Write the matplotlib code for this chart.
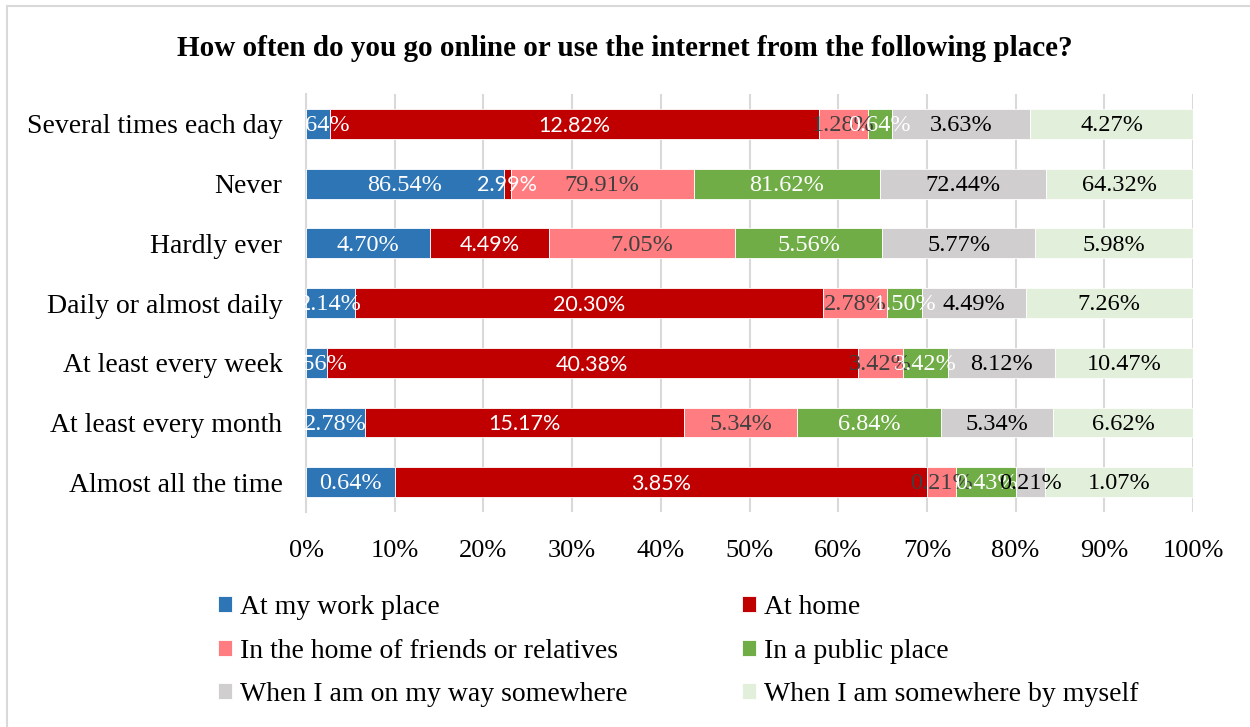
import matplotlib.pyplot as plt
from matplotlib.patches import Rectangle
import numpy as np

categories = ['Several times each day', 'Never', 'Hardly ever', 'Daily or almost daily',
              'At least every week', 'At least every month', 'Almost all the time']
places = ['At my work place', 'At home', 'In the home of friends or relatives',
          'In a public place', 'When I am on my way somewhere', 'When I am somewhere by myself']

work = [0.64, 86.54, 4.70, 2.14, 1.56, 2.78, 0.64]
home = [12.82, 2.99, 4.49, 20.30, 40.38, 15.17, 3.85]
friends = [1.28, 79.91, 7.05, 2.78, 3.42, 5.34, 0.21]
public = [0.64, 81.62, 5.56, 1.50, 3.42, 6.84, 0.43]
on_way = [3.63, 72.44, 5.77, 4.49, 8.12, 5.34, 0.21]
by_myself = [4.27, 64.32, 5.98, 7.26, 10.47, 6.62, 1.07]

colors = ['#2E75B6', '#C00000', '#FF7C80', '#70AD47', '#D0CECE', '#E2EFDA']
label_colors = ['white', 'white', '#404040', 'white', 'black', 'black']
label_fonts = ['Liberation Serif', 'Lato', 'Liberation Serif', 'Liberation Serif',
               'Liberation Serif', 'Liberation Serif']

plt.rcParams['font.family'] = 'Liberation Serif'

def main():
    series = np.array([work, home, friends, public, on_way, by_myself])
    shares = series / series.sum(axis=0) * 100  # 100% stacked

    fig = plt.figure(figsize=(12.5, 7.27), dpi=100)
    ax = fig.add_axes([0.2448, 0.2957, 0.7096, 0.575])

    y = np.arange(len(categories))
    left = np.zeros(len(categories))
    bars = []
    for i, name in enumerate(places):
        b = ax.barh(y, shares[i], left=left, height=0.5, color=colors[i],
                    edgecolor='white', linewidth=0.6, label=name, zorder=3)
        bars.append(b)
        for j in range(len(categories)):
            ax.text(left[j] + shares[i][j] / 2, y[j] + 0.03, '%.2f%%' % series[i][j],
                    ha='center', va='center', color=label_colors[i],
                    fontsize=15.5 if i == 1 else 17.5, family=label_fonts[i], zorder=4)
        left += shares[i]

    ax.set_xlim(0, 100)
    ax.set_ylim(-0.5, len(categories) - 0.5)
    ax.invert_yaxis()
    ax.set_yticks(y)
    ax.set_yticklabels(categories, fontsize=20)
    ax.set_xticks(np.arange(0, 101, 10))
    ax.set_xticklabels(['%d%%' % v for v in range(0, 101, 10)], fontsize=19)
    ax.tick_params(axis='y', length=0, pad=17)
    ax.tick_params(axis='x', length=0, pad=20)
    ax.grid(axis='x', color='#D9D9D9', linewidth=1.5, zorder=0)
    for s in ['top', 'right', 'bottom']:
        ax.spines[s].set_visible(False)
    ax.spines['left'].set_color('#D9D9D9')
    ax.spines['left'].set_linewidth(1.5)

    fig.text(0.5, 0.933, 'How often do you go online or use the internet from the following place?',
             ha='center', va='center', fontsize=21, fontweight='bold')

    # legend: two columns, filled row by row
    order = [0, 2, 4, 1, 3, 5]
    fig.legend([bars[k] for k in order], [places[k] for k in order],
               ncol=2, loc='upper left', bbox_to_anchor=(0.1656, 0.197),
               frameon=False, fontsize=20, handlelength=0.5, handleheight=0.5,
               handletextpad=0.3, columnspacing=4.1, labelspacing=0.67,
               borderaxespad=0)

    fig.add_artist(Rectangle((7 / 1250, -0.01), 1.0, 1 - 6 / 727 + 0.01,
                             transform=fig.transFigure, fill=False,
                             edgecolor='#D9D9D9', linewidth=1.5))

    fig.savefig('out.png', dpi=100)

if __name__ == '__main__':
    main()
